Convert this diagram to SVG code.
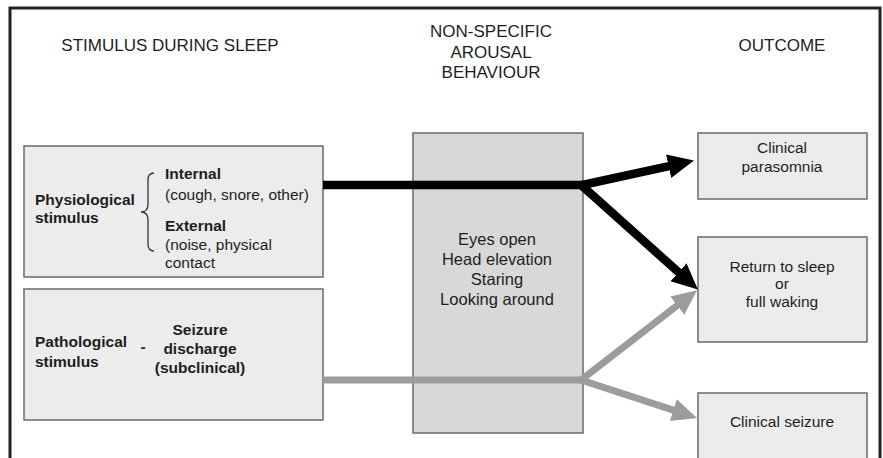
<svg xmlns="http://www.w3.org/2000/svg" width="883" height="458" viewBox="0 0 883 458">
<defs>
<style>
text{font-family:"Liberation Sans",Arial,sans-serif;fill:#1e1e1e}
.h{font-size:17px}
.b{font-weight:bold;font-size:15.5px}
.r{font-size:15.5px}
.m{font-size:16.5px}
.box{fill:#ececec;stroke:#6a6a6a;stroke-width:1.5}
.mid{fill:#d8d8d8;stroke:#6a6a6a;stroke-width:1.5}
.blk{stroke:#000;stroke-width:8.5;fill:none}
.gry{stroke:#9c9c9c;stroke-width:7;fill:none}
</style>
<marker id="ab" markerUnits="userSpaceOnUse" viewBox="0 -14 28 28" markerWidth="28" markerHeight="28" refX="4" refY="0" orient="auto"><path d="M0,-12 L26,0 L0,12 z" fill="#000"/></marker>
<marker id="ag" markerUnits="userSpaceOnUse" viewBox="0 -14 28 28" markerWidth="28" markerHeight="28" refX="4" refY="0" orient="auto"><path d="M0,-11.5 L25,0 L0,11.5 z" fill="#9c9c9c"/></marker>
</defs>
<rect width="883" height="458" fill="#fff"/>
<g id="frame" fill="none" stroke="#222" stroke-width="3">
<path d="M10,460 V8 H880 V460"/>
</g>
<g id="headings">
<text class="h" x="170" y="51" text-anchor="middle">STIMULUS DURING SLEEP</text>
<text class="h" x="491" y="37" text-anchor="middle">NON-SPECIFIC</text>
<text class="h" x="491" y="58" text-anchor="middle">AROUSAL</text>
<text class="h" x="491" y="78" text-anchor="middle">BEHAVIOUR</text>
<text class="h" x="782" y="51" text-anchor="middle">OUTCOME</text>
</g>
<g id="physiological">
<rect class="box" x="24" y="146" width="299" height="131"/>
<text class="b" x="35" y="205">Physiological</text>
<text class="b" x="35" y="223">stimulus</text>
<path d="M154,173 Q148,173 148,180 V204 Q148,212 141,212 Q148,212 148,220 V244 Q148,251 154,251" fill="none" stroke="#333" stroke-width="1.3"/>
<text class="b" x="165" y="179">Internal</text>
<text class="r" x="165" y="200">(cough, snore, other)</text>
<text class="b" x="165" y="231">External</text>
<text class="r" x="165" y="250">(noise, physical</text>
<text class="r" x="165" y="268">contact</text>
</g>
<g id="pathological">
<rect class="box" x="24" y="289" width="299" height="131"/>
<text class="b" x="35" y="347">Pathological</text>
<text class="b" x="35" y="367">stimulus</text>
<text class="b" x="143" y="352" text-anchor="middle">-</text>
<text class="b" x="200" y="335" text-anchor="middle">Seizure</text>
<text class="b" x="200" y="354" text-anchor="middle">discharge</text>
<text class="b" x="200" y="373" text-anchor="middle">(subclinical)</text>
</g>
<g id="arousal">
<rect class="mid" x="413" y="133" width="170" height="300"/>
<text class="m" x="497" y="245" text-anchor="middle">Eyes open</text>
<text class="m" x="497" y="265" text-anchor="middle">Head elevation</text>
<text class="m" x="497" y="285" text-anchor="middle">Staring</text>
<text class="m" x="497" y="305" text-anchor="middle">Looking around</text>
</g>
<g id="parasomnia">
<rect class="box" x="698" y="133" width="169" height="66"/>
<text class="r" x="782" y="153" text-anchor="middle">Clinical</text>
<text class="r" x="782" y="172" text-anchor="middle">parasomnia</text>
</g>
<g id="return">
<rect class="box" x="698" y="237" width="169" height="105"/>
<text class="r" x="782" y="272" text-anchor="middle">Return to sleep</text>
<text class="r" x="782" y="289" text-anchor="middle">or</text>
<text class="r" x="782" y="307" text-anchor="middle">full waking</text>
</g>
<g id="seizure">
<rect class="box" x="698" y="393" width="169" height="80"/>
<text class="r" x="782" y="427" text-anchor="middle">Clinical seizure</text>
</g>
<g id="connectors">
<path class="gry" d="M323,380 H583"/>
<path class="gry" d="M581,380 L680.4,303.1" marker-end="url(#ag)"/>
<path class="gry" d="M581,380 L677.1,411.4" marker-end="url(#ag)"/>
<path class="blk" d="M580,185.5 L672.5,165.3" marker-end="url(#ab)"/>
<path class="blk" d="M580,184 L681.5,274.9" marker-end="url(#ab)"/>
<path class="blk" d="M323,185 H583"/>
</g>
</svg>
